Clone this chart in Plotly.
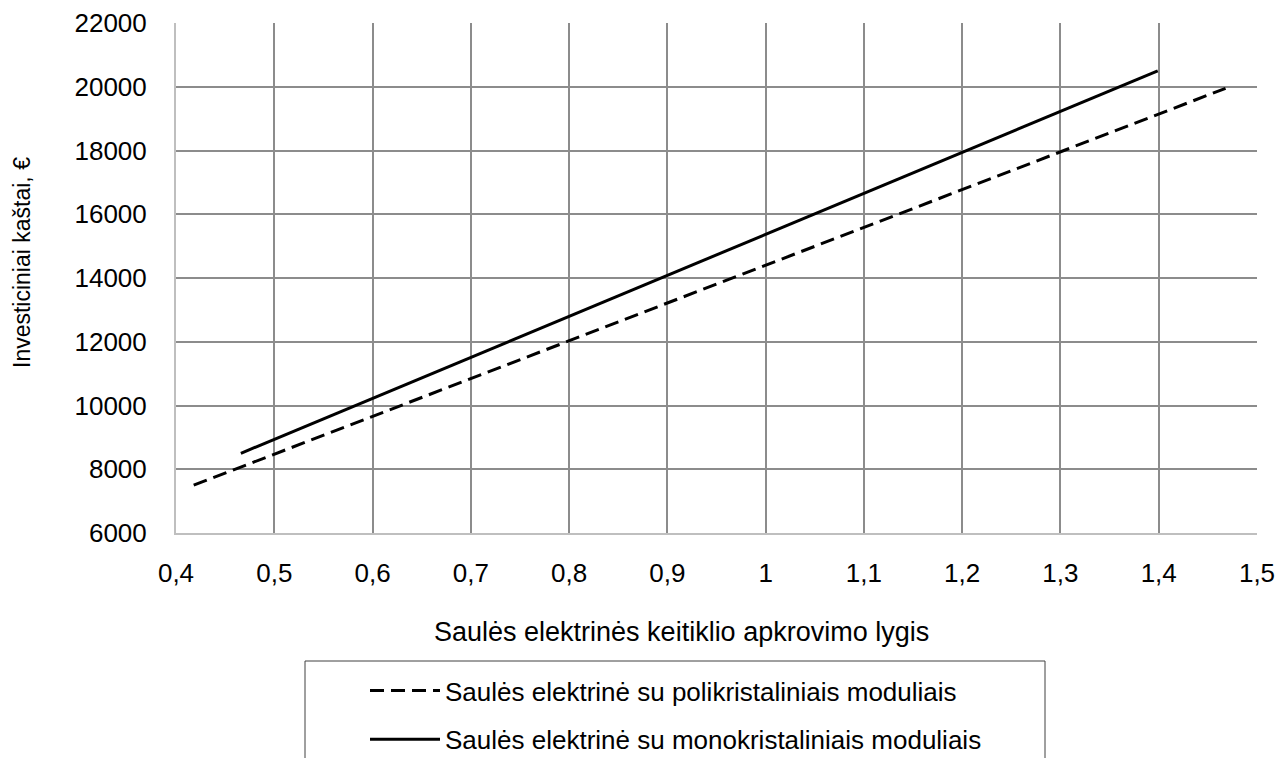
import plotly.graph_objects as go

# Inverter loading level vs. investment cost
poly_x = [0.418, 0.8, 1.3, 1.468]
poly_y = [7500, 12030, 17960, 19950]
mono_x = [0.466, 0.9, 1.2, 1.399]
mono_y = [8500, 14080, 17930, 20500]

x_ticks = [0.4, 0.5, 0.6, 0.7, 0.8, 0.9, 1.0, 1.1, 1.2, 1.3, 1.4, 1.5]
x_tick_text = ["0,4", "0,5", "0,6", "0,7", "0,8", "0,9", "1", "1,1", "1,2", "1,3", "1,4", "1,5"]
y_ticks = [6000, 8000, 10000, 12000, 14000, 16000, 18000, 20000, 22000]
y_tick_text = [str(v) for v in y_ticks]

name_poly = "Saulės elektrinė su polikristaliniais moduliais"
name_mono = "Saulės elektrinė su monokristaliniais moduliais"

font_family = "Liberation Sans, Arial, sans-serif"

W, H = 1280, 758
# plot-area geometry in pixels (used for paper-coordinate placement)
L, R, T, B = 176, 1257, 23, 533
PW, PH = R - L, B - T


def px_x(px):
    return (px - L) / PW


def px_y(py):
    return (B - py) / PH


fig = go.Figure()
fig.add_trace(go.Scatter(x=poly_x, y=poly_y, mode="lines", name=name_poly,
                         legendgroup="a",
                         line=dict(color="black", width=3, dash="14px,7px")))
fig.add_trace(go.Scatter(x=mono_x, y=mono_y, mode="lines", name=name_mono,
                         legendgroup="b",
                         line=dict(color="black", width=3)))

fig.update_layout(
    width=W, height=H,
    margin=dict(l=L, r=W - R, t=T, b=H - B, autoexpand=False),
    paper_bgcolor="white", plot_bgcolor="white",
    showlegend=True,
    legend=dict(xref="container", yref="container",
                x=365 / W, y=1 - 667 / H, xanchor="left", yanchor="top",
                font=dict(family=font_family, size=26, color="black"),
                itemwidth=70, tracegroupgap=12, traceorder="grouped",
                bgcolor="rgba(0,0,0,0)"),
    xaxis=dict(range=[0.4, 1.5], tickvals=x_ticks, ticktext=x_tick_text,
               showgrid=True, gridcolor="#8c8c8c", gridwidth=1.5,
               showline=True, linecolor="#bfbfbf", linewidth=2,
               zeroline=False, ticks="", ticklabelstandoff=16,
               tickfont=dict(family=font_family, size=26, color="black")),
    yaxis=dict(range=[6000, 22000], tickvals=y_ticks, ticktext=y_tick_text,
               showgrid=True, gridcolor="#8c8c8c", gridwidth=1.5,
               showline=True, linecolor="#bfbfbf", linewidth=2,
               zeroline=False, ticks="", ticklabelstandoff=22,
               tickfont=dict(family=font_family, size=26, color="black")),
    annotations=[
        dict(text="Saulės elektrinės keitiklio apkrovimo lygis",
             xref="paper", yref="paper", x=px_x(681), y=px_y(632),
             xanchor="center", yanchor="middle", showarrow=False,
             font=dict(family=font_family, size=27, color="black")),
        dict(text="Investiciniai kaštai, €",
             xref="paper", yref="paper", x=px_x(22), y=px_y(263),
             xanchor="center", yanchor="middle", showarrow=False, textangle=-90,
             font=dict(family=font_family, size=23, color="black")),
    ],
    shapes=[
        dict(type="rect", xref="paper", yref="paper",
             x0=px_x(305), x1=px_x(1045), y0=px_y(775), y1=px_y(661),
             line=dict(color="#404040", width=1), fillcolor="rgba(0,0,0,0)"),
    ],
)

fig.write_html("out.html")
